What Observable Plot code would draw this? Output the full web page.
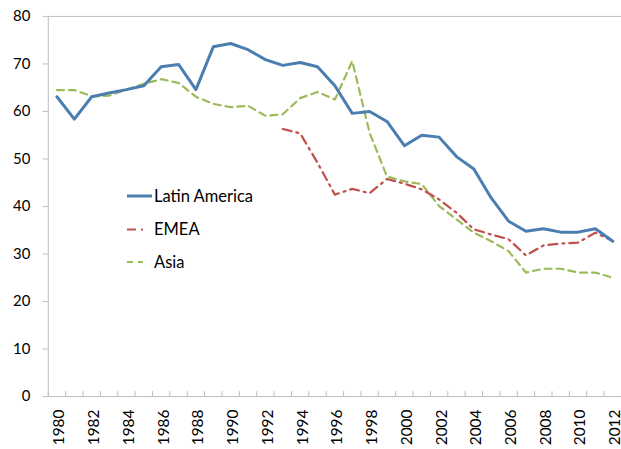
<!DOCTYPE html>
<html>
<head>
<meta charset="utf-8">
<script src="https://cdn.jsdelivr.net/npm/d3@7"></script>
<script src="https://cdn.jsdelivr.net/npm/@observablehq/plot@0.6"></script>
<style>
  html, body { margin: 0; padding: 0; background: #fff; }
  #wrap { position: relative; width: 621px; height: 449px; overflow: hidden; }
  #wrap svg { display: block; }
  [aria-label$="axis tick"] { stroke: #bcbcbc; }
  [aria-label="x-axis tick label"] { font-size: 15.5px; }
  [aria-label="y-axis tick label"] { font-size: 15px; }
  #legend { position: absolute; left: 0; top: 0; pointer-events: none; }
</style>
</head>
<body>
<div id="wrap"></div>
<script>
const years = [1980,1981,1982,1983,1984,1985,1986,1987,1988,1989,1990,1991,1992,1993,1994,1995,1996,
  1997,1998,1999,2000,2001,2002,2003,2004,2005,2006,2007,2008,2009,2010,2011,2012];
const latinAmerica = [63.1,58.4,63.1,63.9,64.6,65.4,69.4,69.9,64.6,73.6,74.3,73.0,70.9,69.7,70.3,69.4,65.4,
  59.6,60.0,57.9,52.8,55.0,54.6,50.5,47.9,41.8,36.9,34.8,35.3,34.6,34.6,35.3,32.7];
const emea = [null,null,null,null,null,null,null,null,null,null,null,null,null,56.3,55.4,49.2,42.5,
  43.7,42.8,45.8,44.8,43.6,41.5,38.7,35.2,34.1,33.1,29.7,31.8,32.2,32.4,34.5,32.7];
const asia = [64.5,64.5,63.2,63.3,64.6,65.8,66.8,66.0,63.1,61.6,60.9,61.2,59.1,59.4,62.8,64.1,62.5,
  70.6,55.5,46.3,45.3,44.7,40.1,37.3,34.5,32.7,30.6,26.1,26.9,26.9,26.1,26.1,25.0];
const yTicks = [0,10,20,30,40,50,60,70,80];
const xTickLabels = [1980,1982,1984,1986,1988,1990,1992,1994,1996,1998,2000,2002,2004,2006,2008,2010,2012];
const seriesNames = ["Latin America","EMEA","Asia"];
const colors = ["#4a7eb0","#c0504d","#9bbb59"];

const rows = (vals) => years.map((yr, i) => ({year: yr, value: vals[i]})).filter(d => d.value != null);
const boundaries = years.map(y => y - 0.5).concat([years[years.length - 1] + 0.5]);

const chart = Plot.plot({
  width: 624,
  height: 449,
  marginLeft: 48,
  marginRight: 0,
  marginTop: 16,
  marginBottom: 51,
  style: {fontFamily: "Lato, sans-serif", fontSize: "15px", color: "#000", background: "#fff"},
  x: {domain: [1979.5, 2012.5]},
  y: {domain: [0, 80]},
  marks: [
    Plot.frame({stroke: "#bfbfbf"}),
    Plot.axisY({ticks: yTicks, tickSize: 5, tickPadding: 13, label: null}),
    Plot.axisX({ticks: boundaries, tickSize: 5, dy: -5, tickFormat: () => "", label: null}),
    Plot.axisX({ticks: xTickLabels, tickSize: 0, tickPadding: 13, tickRotate: -90, dx: 2.5, tickFormat: d => String(d), label: null}),
    Plot.line(rows(asia), {x: "year", y: "value", stroke: colors[2], strokeWidth: 2.2, strokeDasharray: "7,5"}),
    Plot.line(rows(emea), {x: "year", y: "value", stroke: colors[1], strokeWidth: 2.2, strokeDasharray: "9,5,2,5"}),
    Plot.line(rows(latinAmerica), {x: "year", y: "value", stroke: colors[0], strokeWidth: 3})
  ]
});
const wrap = document.getElementById("wrap");
wrap.appendChild(chart);

// legend overlay
const ns = "http://www.w3.org/2000/svg";
const leg = document.createElementNS(ns, "svg");
leg.setAttribute("id", "legend");
leg.setAttribute("width", 621);
leg.setAttribute("height", 449);
const legY = [196, 229.5, 262];
const dashes = [null, "9,5,2,5", "6,5"];
const lineEnds = [152, 143, 143];
const widths = [3, 2.2, 2.2];
seriesNames.forEach((name, i) => {
  const ln = document.createElementNS(ns, "line");
  ln.setAttribute("x1", 127); ln.setAttribute("x2", lineEnds[i]);
  ln.setAttribute("y1", legY[i]); ln.setAttribute("y2", legY[i]);
  ln.setAttribute("stroke", colors[i]);
  ln.setAttribute("stroke-width", widths[i]);
  if (dashes[i]) ln.setAttribute("stroke-dasharray", dashes[i]);
  leg.appendChild(ln);
  const tx = document.createElementNS(ns, "text");
  tx.setAttribute("x", 154);
  tx.setAttribute("y", legY[i]);
  tx.setAttribute("dy", "0.35em");
  tx.setAttribute("font-family", "Lato, sans-serif");
  tx.setAttribute("font-size", "16.5px");
  tx.setAttribute("fill", "#000");
  tx.textContent = name;
  leg.appendChild(tx);
});
wrap.appendChild(leg);
</script>
</body>
</html>
